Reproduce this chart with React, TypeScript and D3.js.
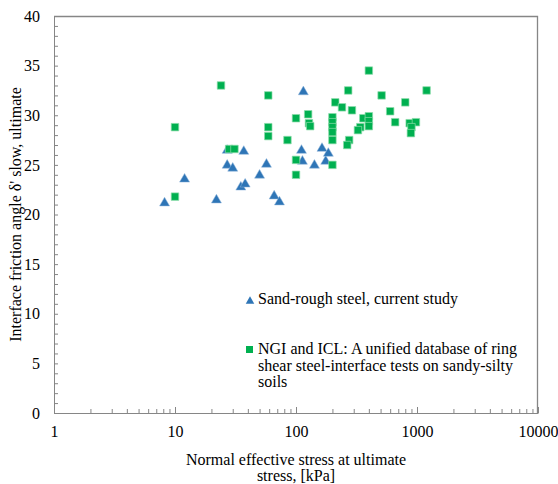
import * as d3 from "d3";
import {useEffect, useRef} from "react";

const W = 558, H = 484;
const margin = {top: 16, right: 20, bottom: 71, left: 54};

// Sand-rough steel, current study: normal effective stress [kPa] and interface angle [deg]
const studyStress = [8.2, 12, 22, 27, 27, 30, 35, 37, 38, 50, 57, 66, 73, 111, 113, 115, 142, 164, 176, 185];
const studyAngle = [21.3, 23.7, 21.6, 26.6, 25.1, 24.8, 22.9, 26.5, 23.2, 24.1, 25.2, 22.0, 21.4, 26.6, 25.5, 32.5, 25.1, 26.8, 25.5, 26.3];

// NGI and ICL database
const dbStress = [10, 10, 24, 28, 31, 59, 59, 59, 85, 100, 100, 100, 126, 128, 131,
    200, 200, 200, 200, 200, 200, 211, 240, 290, 275, 265, 270, 400, 360, 400, 400, 400,
    340, 325, 510, 600, 660, 800, 870, 980, 900, 890, 1200];
const dbAngle = [28.8, 21.8, 33.0, 26.6, 26.6, 32.0, 28.8, 27.9, 27.5, 29.7, 25.5, 24.0, 30.1, 29.2, 28.9,
    29.8, 29.3, 28.8, 28.3, 27.5, 25.0, 31.3, 30.8, 30.5, 27.5, 27.0, 32.5, 34.5, 29.7, 29.9, 29.4, 28.9,
    28.8, 28.5, 32.0, 30.4, 29.3, 31.3, 29.2, 29.3, 28.8, 28.2, 32.5];

const yTicks = d3.range(0, 41, 1);
const xDecades = [1, 10, 100, 1000, 10000];
const xTickLabels = ["1", "10", "100", "1000", "10000"];

const legendLabels = [
    ["Sand-rough steel, current study"],
    ["NGI and ICL: A unified database of ring", "shear steel-interface tests on sandy-silty", "soils"],
];

const FONT = "'Liberation Serif', 'Times New Roman', serif";
const BLUE = "#2e75b6";
const GREEN = "#00b050";
const AXIS = "#868686";

// triangle centred on its bounding box
const tri = (s) => {
    const h = s * Math.sqrt(3) / 2;
    return `M0,${-h / 2}L${s / 2},${h / 2}L${-s / 2},${h / 2}Z`;
};
const sq = (s) => `M${-s / 2},${-s / 2}h${s}v${s}h${-s}Z`;

const App = () => {
    const ref = useRef(null);

    useEffect(() => {
        const svg = d3.select(ref.current);
        svg.selectAll("*").remove();

        const width = W - margin.left - margin.right,
            height = H - margin.top - margin.bottom;

        const x = d3.scaleLog().domain([1, 10000]).range([0, width]);
        const y = d3.scaleLinear().domain([0, 40]).range([height, 0]);

        const g = svg.append("g").attr("transform", `translate(${margin.left},${margin.top})`);

        // plot frame (top and right)
        g.append("path")
            .attr("d", `M0,0.5H${width - 0.5}V${height}`)
            .attr("fill", "none")
            .attr("stroke", AXIS)
            .attr("stroke-width", 1.3);

        // Y axis
        const yAxis = g.append("g")
            .call(d3.axisLeft(y)
                .tickValues(yTicks)
                .tickSize(-4)
                .tickSizeOuter(0)
                .tickPadding(14)
                .tickFormat(d => d % 5 === 0 ? String(d) : ""));
        yAxis.attr("font-family", FONT).attr("font-size", 16).attr("color", AXIS);
        yAxis.selectAll("text").attr("fill", "#000");

        // X axis, log with minor ticks
        const xTicks = [];
        xDecades.slice(0, -1).forEach(d => {
            for (let k = 1; k < 10; k++) xTicks.push(d * k);
        });
        xTicks.push(10000);

        const xAxis = g.append("g")
            .attr("transform", `translate(0,${height})`)
            .call(d3.axisBottom(x)
                .tickValues(xTicks)
                .tickSize(-4)
                .tickSizeOuter(0)
                .tickPadding(13)
                .tickFormat(d => {
                    const i = xDecades.indexOf(d);
                    return i >= 0 ? xTickLabels[i] : "";
                }));
        xAxis.attr("font-family", FONT).attr("font-size", 16).attr("color", AXIS);
        xAxis.selectAll("text").attr("fill", "#000");
        xAxis.selectAll(".tick line").filter(d => xDecades.includes(d)).attr("y2", -6);

        // data: triangles first, squares on top
        g.selectAll("path.study")
            .data(studyStress.map((s, i) => [s, studyAngle[i]]))
            .join("path")
            .attr("class", "study")
            .attr("d", tri(10))
            .attr("transform", d => `translate(${x(d[0])},${y(d[1])})`)
            .attr("fill", BLUE)
            .attr("stroke", "#8fb4db")
            .attr("stroke-width", 0.5);

        g.selectAll("path.db")
            .data(dbStress.map((s, i) => [s, dbAngle[i]]))
            .join("path")
            .attr("class", "db")
            .attr("d", sq(7.5))
            .attr("transform", d => `translate(${x(d[0])},${y(d[1])})`)
            .attr("fill", GREEN)
            .attr("stroke", "#8ddcab")
            .attr("stroke-width", 0.7);

        // axis titles
        const xt = svg.append("text")
            .attr("font-family", FONT).attr("font-size", 16).attr("fill", "#000")
            .attr("text-anchor", "middle");
        xt.append("tspan").attr("x", margin.left + width / 2).attr("y", 464.5).text("Normal effective stress at ultimate");
        xt.append("tspan").attr("x", margin.left + width / 2).attr("y", 481).text("stress, [kPa]");

        svg.append("text")
            .attr("font-family", FONT).attr("font-size", 16).attr("fill", "#000")
            .attr("text-anchor", "middle")
            .attr("transform", `translate(21,${margin.top + height / 2}) rotate(-90)`)
            .text("Interface friction angle δ' slow, ultimate");

        // legend
        const lg = svg.append("g").attr("font-family", FONT).attr("font-size", 16).attr("fill", "#000");
        lg.append("path").attr("d", tri(8.5)).attr("transform", "translate(250,300)").attr("fill", BLUE);
        lg.append("path").attr("d", sq(7)).attr("transform", "translate(249.5,349.5)").attr("fill", GREEN);
        const baselines = [[304], [353.5, 370.5, 387]];
        legendLabels.forEach((lines, i) => {
            lines.forEach((t, j) => {
                lg.append("text").attr("x", 258).attr("y", baselines[i][j]).text(t);
            });
        });
    }, []);

    return (
        <svg ref={ref} width={W} height={H}
             style={{position: "absolute", left: 0, top: 0, background: "#fff"}}/>
    );
};

export default App;
